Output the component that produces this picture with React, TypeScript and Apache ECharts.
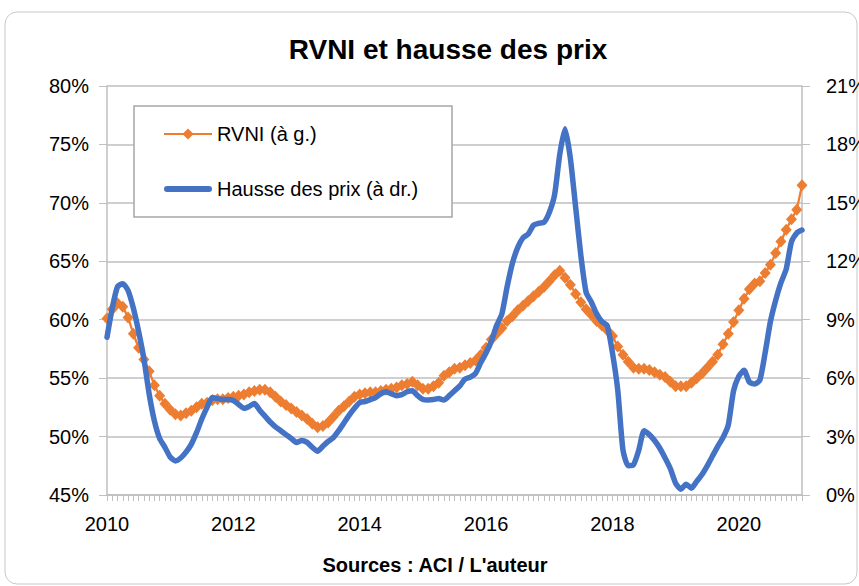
import React, { useEffect, useRef } from "react";
import * as echarts from "echarts";

// Monthly observations, January 2010 (index 0) to January 2021 (index 132)
const rvni: number[] = [
  60.1, 60.9, 61.4, 61.1, 60.2, 58.8, 57.6, 56.6, 55.6, 54.4,
  53.5, 52.8, 52.3, 51.9, 51.8, 52.0, 52.2, 52.5, 52.8, 52.9,
  53.1, 53.2, 53.2, 53.3, 53.4, 53.5, 53.6, 53.8, 53.9, 54.0,
  54.0, 53.8, 53.4, 53.0, 52.7, 52.4, 52.1, 51.8, 51.5, 51.1,
  50.8, 50.9, 51.2, 51.7, 52.2, 52.6, 53.0, 53.4, 53.6, 53.7,
  53.8, 53.8, 53.9, 54.0, 54.1, 54.2, 54.4, 54.5, 54.7, 54.4,
  54.1, 54.1, 54.3, 54.6, 55.2, 55.5, 55.8, 55.9, 56.1, 56.3,
  56.5, 57.0, 57.6, 58.3, 58.8, 59.3, 59.9, 60.3, 60.8, 61.2,
  61.6, 62.0, 62.4, 62.8, 63.3, 63.8, 64.2, 63.6, 63.0, 62.2,
  61.5, 60.9, 60.4, 59.9, 59.5, 59.1, 58.6, 57.7, 57.0, 56.4,
  55.9, 55.8, 55.8, 55.7, 55.5, 55.3, 55.1, 54.7, 54.3, 54.3,
  54.3, 54.6, 55.0, 55.4, 55.9, 56.4, 57.0, 57.9, 58.8, 59.8,
  60.8, 61.8, 62.6, 63.1, 63.3, 64.0, 64.7, 65.7, 66.7, 67.7,
  68.6, 69.4, 71.5,
];

const hausse: number[] = [
  8.1, 9.6, 10.7, 10.85, 10.5, 9.6, 8.4, 7.0, 5.2, 3.8,
  2.9, 2.45, 1.95, 1.75, 1.9, 2.2, 2.6, 3.2, 3.9, 4.5,
  5.0, 4.95, 4.9, 4.9, 4.85, 4.65, 4.45, 4.55, 4.7, 4.35,
  4.05, 3.75, 3.5, 3.3, 3.1, 2.9, 2.7, 2.8, 2.7, 2.45,
  2.25, 2.5, 2.75, 2.95, 3.3, 3.7, 4.1, 4.45, 4.75, 4.8,
  4.9, 5.0, 5.2, 5.3, 5.2, 5.1, 5.15, 5.3, 5.35, 5.1,
  4.9, 4.88, 4.9, 4.95, 4.88, 5.1, 5.35, 5.6, 5.95, 6.05,
  6.25, 6.8, 7.3, 7.9, 8.7, 9.3, 10.7, 11.9, 12.7, 13.2,
  13.4, 13.85, 13.95, 14.0, 14.5, 15.4, 17.5, 18.8, 17.3, 14.8,
  12.3, 10.4, 9.9, 9.3, 8.9, 8.7, 7.3, 5.4, 2.3, 1.5,
  1.55, 2.3, 3.3, 3.1, 2.8, 2.4, 1.9, 1.35, 0.6, 0.3,
  0.55, 0.35, 0.7, 1.05, 1.5, 2.0, 2.5, 2.95, 3.6, 5.35,
  6.1, 6.4, 5.8, 5.7, 5.9, 7.3, 8.9, 10.0, 10.9, 11.6,
  13.0, 13.45, 13.6,
];

const startYear = 2010;
const seriesNames = ["RVNI (à g.)", "Hausse des prix (à dr.)"];
const titleText = "RVNI et hausse des prix";
const sourceText = "Sources : ACI / L'auteur";

const FONT = "'Liberation Sans', Arial, sans-serif";
const ORANGE = "#ED7D31";
const BLUE = "#4472C4";
const GRID = "#bfbfbf";
const BAR_ICON = "path://M3,0 H45 A3,3 0 0 1 45,6 H3 A3,3 0 0 1 3,0 Z";

export default function App() {
  const ref = useRef<HTMLDivElement>(null);

  useEffect(() => {
    if (!ref.current) return;
    const chart = echarts.init(ref.current, undefined, { renderer: "svg" });
    const option: any = {
      animation: false,
      backgroundColor: "#ffffff",
      title: {
        text: titleText,
        left: 448,
        top: 35,
        textAlign: "center",
        padding: 0,
        textStyle: { fontFamily: FONT, fontSize: 28, fontWeight: "bold", color: "#000" },
      },
      graphic: [
        {
          type: "rect",
          shape: { x: 5, y: 12, width: 852, height: 572, r: 12 },
          style: { fill: "none", stroke: "#c8c8c8", lineWidth: 1 },
          silent: true,
        },
        {
          type: "rect",
          shape: { x: 134, y: 106, width: 318, height: 111 },
          style: { fill: "#fff", stroke: "#a6a6a6", lineWidth: 1.5 },
          z: 5,
          silent: true,
        },
        {
          type: "text",
          x: 435,
          y: 565,
          style: {
            text: sourceText,
            fontFamily: FONT,
            fontSize: 20,
            fontWeight: "bold",
            fill: "#000",
            textAlign: "center",
            textVerticalAlign: "middle",
          },
        },
      ],
      legend: {
        data: [
          { name: seriesNames[0] },
          { name: seriesNames[1], icon: BAR_ICON, itemStyle: { color: BLUE } },
        ],
        orient: "vertical",
        left: 163,
        top: 124,
        padding: 0,
        itemWidth: 48,
        itemHeight: 14,
        itemGap: 35,
        z: 10,
        textStyle: { fontFamily: FONT, fontSize: 20, color: "#000" },
      },
      grid: {
        left: 107,
        right: 57,
        top: 86,
        bottom: 91,
        containLabel: false,
        outerBoundsMode: "none",
      },
      xAxis: {
        type: "value",
        min: 0,
        max: 132,
        interval: 24,
        axisLine: { show: true, lineStyle: { color: GRID, width: 1.5 } },
        axisTick: { show: true, length: 6, lineStyle: { color: GRID } },
        minorTick: { show: true, splitNumber: 24, length: 6, lineStyle: { color: GRID } },
        splitLine: { show: false },
        axisLabel: {
          margin: 19,
          showMaxLabel: false,
          fontFamily: FONT,
          fontSize: 20,
          color: "#000",
          formatter: (v: number) => (v % 24 === 0 ? String(startYear + v / 12) : ""),
        },
      },
      yAxis: [
        {
          type: "value",
          min: 45,
          max: 80,
          interval: 5,
          position: "left",
          axisLine: { show: true, lineStyle: { color: GRID, width: 1.5 } },
          axisTick: { show: true, length: 8, lineStyle: { color: GRID } },
          splitLine: { show: true, lineStyle: { color: GRID, width: 1.5 } },
          axisLabel: {
            margin: 18,
            fontFamily: FONT,
            fontSize: 20,
            color: "#000",
            formatter: (v: number) => `${v}%`,
          },
        },
        {
          type: "value",
          min: 0,
          max: 21,
          interval: 3,
          position: "right",
          axisLine: { show: true, lineStyle: { color: GRID, width: 1.5 } },
          axisTick: { show: true, length: 8, lineStyle: { color: GRID } },
          splitLine: { show: false },
          axisLabel: {
            margin: 24,
            fontFamily: FONT,
            fontSize: 20,
            color: "#000",
            formatter: (v: number) => `${v}%`,
          },
        },
      ],
      series: [
        {
          name: seriesNames[0],
          type: "line",
          yAxisIndex: 0,
          data: rvni.map((v, i) => [i, v]),
          symbol: "diamond",
          symbolSize: [11, 12],
          showSymbol: true,
          lineStyle: { color: ORANGE, width: 2.25 },
          itemStyle: { color: ORANGE },
          z: 3,
        },
        {
          name: seriesNames[1],
          type: "line",
          yAxisIndex: 1,
          data: hausse.map((v, i) => [i, v]),
          symbol: "none",
          smooth: 0.2,
          lineStyle: { color: BLUE, width: 5.5, cap: "round", join: "round" },
          itemStyle: { color: BLUE },
          z: 4,
        },
      ],
    };
    chart.setOption(option);
    return () => chart.dispose();
  }, []);

  return (
    <div
      ref={ref}
      style={{ position: "absolute", left: 0, top: 0, width: 859, height: 586 }}
    />
  );
}
